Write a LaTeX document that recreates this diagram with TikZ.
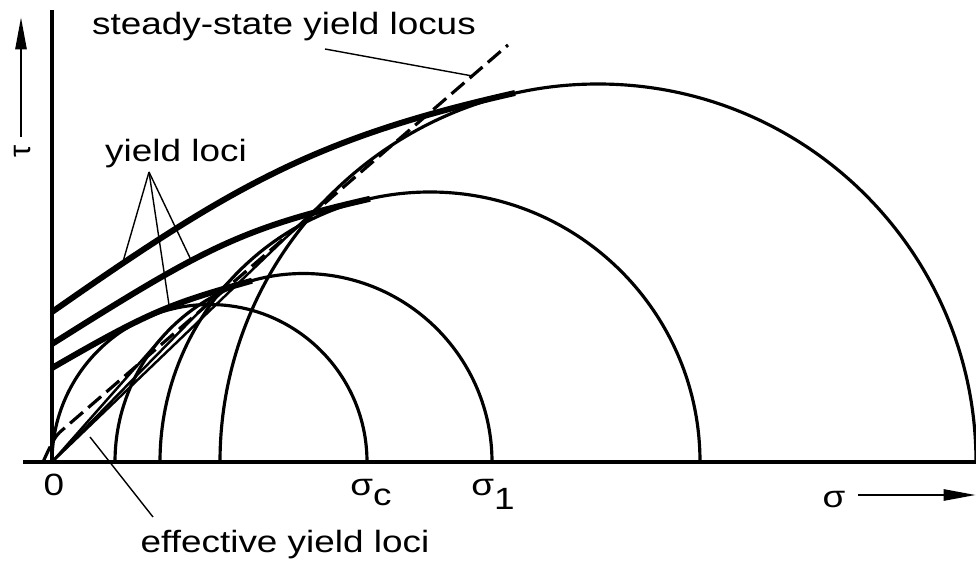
\documentclass[tikz,border=0pt]{standalone}
\usepackage{fontspec}
\setmainfont{Liberation Sans}
\usetikzlibrary{arrows.meta,calc}

\begin{document}
\begin{tikzpicture}[x=0.2mm,y=0.2mm,
    lbl/.style={font=\fontsize{17.5}{20}\selectfont,xscale=1.2,inner sep=0pt},
    circ/.style={line width=1.8pt},
    locus/.style={line width=3.4pt},
    effline/.style={line width=1.4pt},
    leader/.style={line width=0.8pt},
    axarrow/.style={line width=1.6pt,-{Triangle[length=6.5mm,width=2.2mm]}}]
  \useasboundingbox (-52,-99) rectangle (924,462);
  \coordinate (O) at (0,0);
  % axes
  \draw[line width=2pt] (-29,0) -- (924,0);
  \draw[line width=2pt] (O) -- (0,452);
  % Mohr circles (left end / radius)
  \foreach \l/\r in {0/157.5,63/188.5,108/270,168/378}
    \draw[circ] (\l,0) arc[start angle=180,end angle=0,radius=\r];
  % effective yield loci: tangents from O
  \foreach \c/\r in {251.5/188.5,378/270,546/378}{
    \pgfmathsetmacro{\ang}{asin(\r/\c)}
    \pgfmathsetmacro{\len}{\c*cos(\ang)}
    \draw[effline] (O) -- ++(\ang:\len);
  }
  % yield loci
  \draw[locus] (0,150) .. controls (180,276) and (263,324) .. (463,369) coordinate[pos=0.14] (yl1);
  \draw[locus] (0,118) .. controls (150,212.5) and (188,233.6) .. (318,263.2) coordinate[pos=0.4] (yl2);
  \draw[locus] (0,94) .. controls (100,152) and (120,158.6) .. (200,181.3) coordinate[pos=0.56] (yl3);
  % steady-state yield locus
  \draw[line width=1.8pt,dash pattern=on 3.4mm off 1.4mm]
    (-9,0) .. controls (-3,13) and (2,24.8) .. (8,30) -- (456,417) coordinate[pos=0.92] (ssl);
  % labels
  \node[lbl,anchor=base] (ssltext) at (232,427) {steady-state yield locus};
  \node[lbl,anchor=base] (yltext) at (124,300) {yield loci};
  \node[lbl,anchor=base] (eyltext) at (233,-90) {effective yield loci};
  \node[lbl,anchor=base] (zero) at (2,-33) {0};
  \node[lbl,anchor=base] (sigc) at (319,-33) {σ\raisebox{-0.33em}{c}};
  \node[lbl,anchor=base] (sig1) at (441,-33) {σ\raisebox{-0.48em}{1}};
  \node[lbl,anchor=base] (sig) at (782,-45) {σ};
  \node[font=\fontsize{17.5}{20}\selectfont,inner sep=0pt,rotate=90] (tau) at (-29,311) {τ};
  % leaders
  \coordinate (sslfoot) at (273,413);
  \draw[leader] (sslfoot) -- (ssl);
  \coordinate (ylapex) at (97,290);
  \foreach \p in {yl1,yl2,yl3} \draw[leader] (ylapex) -- (\p);
  \coordinate (eylfoot) at (38,25);
  \coordinate (eylhead) at (101,-55);
  \draw[leader] (eylfoot) -- (eylhead);
  % axis arrows
  \coordinate (tau0) at (-31,325);
  \coordinate (tau1) at (-31,445);
  \draw[axarrow] (tau0) -- (tau1);
  \coordinate (sig0) at (806,-33);
  \coordinate (sig1end) at (924,-33);
  \draw[axarrow] (sig0) -- (sig1end);
\end{tikzpicture}
\end{document}
